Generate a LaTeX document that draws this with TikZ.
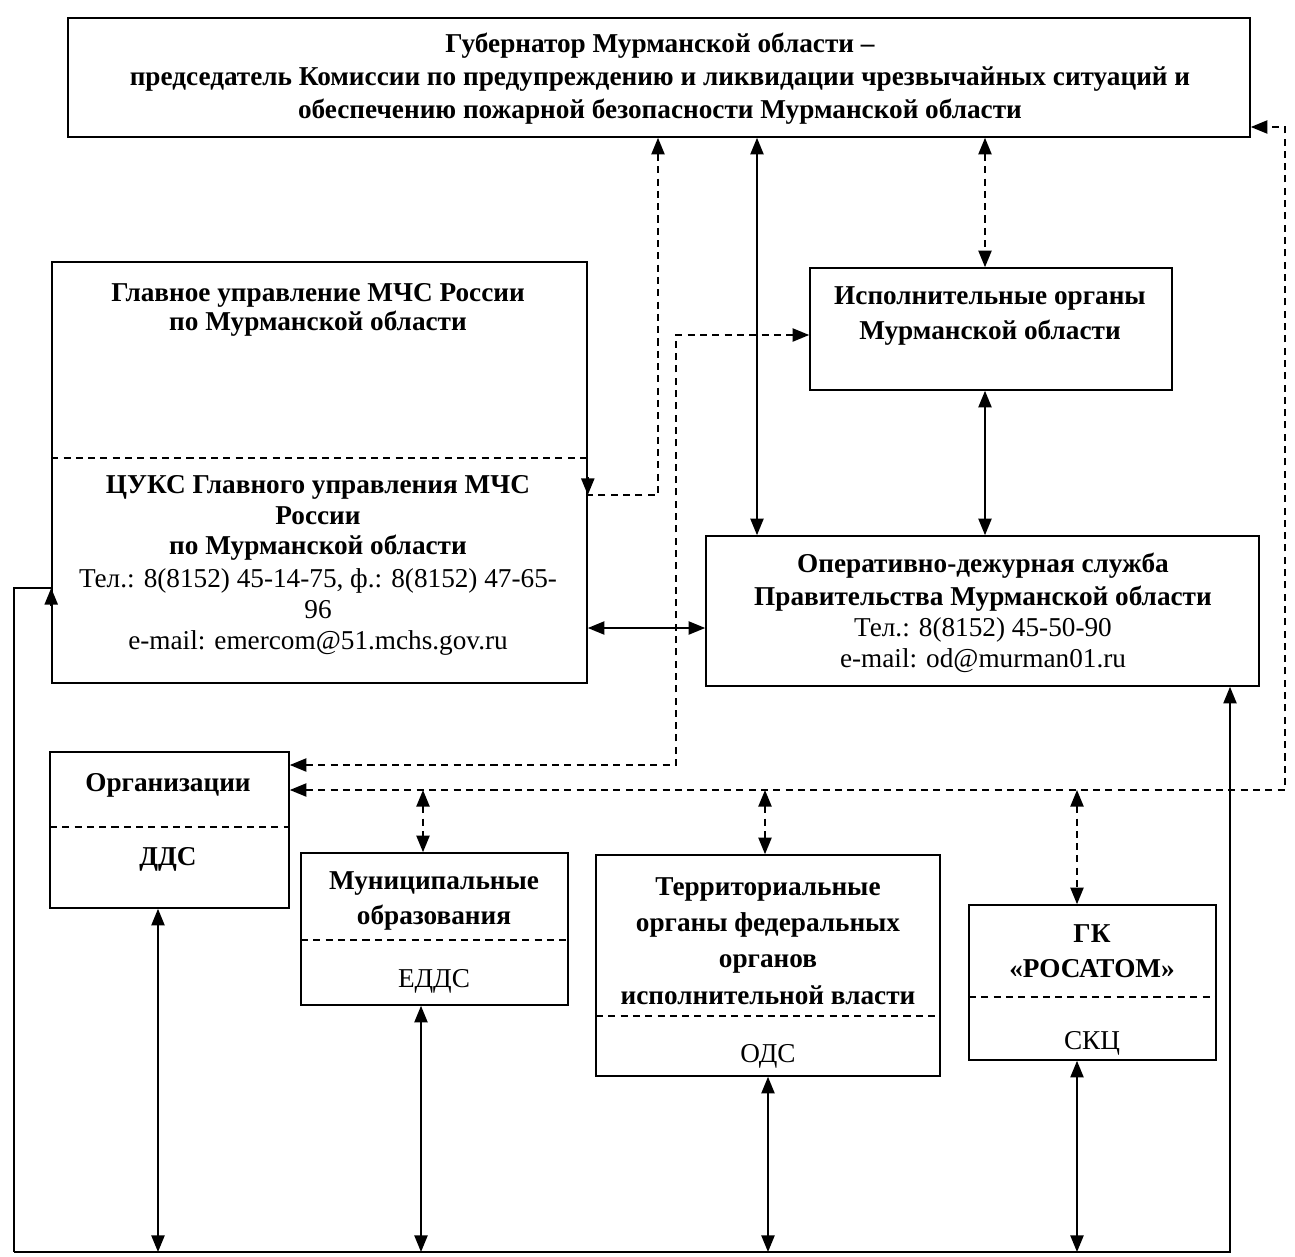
\documentclass[tikz,border=0pt]{standalone}
\usepackage{fontspec}
\setmainfont{Liberation Serif}
\usetikzlibrary{arrows.meta,fit,calc}
\begin{document}
\begin{tikzpicture}[x=0.02cm,y=-0.02cm,
  box/.style={draw,line width=0.9pt,inner sep=0pt},
  sep/.style={line width=0.9pt,dash pattern=on 4pt off 3pt},
  tip/.style={-{Triangle[length=9.5pt,width=7.5pt]}},
  dtip/.style={{Triangle[length=9.5pt,width=7.5pt]}-{Triangle[length=9.5pt,width=7.5pt]}},
  stip/.style={{Triangle[length=9.5pt,width=7.5pt]}-},
  conn/.style={line width=1.1pt},
  dconn/.style={line width=1.1pt,dash pattern=on 4pt off 3pt},
  bt/.style={font=\bfseries\fontsize{15.5}{#1}\selectfont,align=center,inner sep=0pt},
  bt/.default=18,
  rt/.style={font=\fontsize{15.5}{#1}\selectfont,align=center,inner sep=0pt},
  rt/.default=18]
\useasboundingbox (0,0) rectangle (1295,1257);

% helper coordinates
\foreach \n/\v in {14/14,158/158,421/421,423/423,587/587,658/658,676/676,757/757,765/765,768/768,985/985,1077/1077,1230/1230,1285/1285}
  \coordinate (x\n) at (\v,0);
\foreach \n/\v in {127/127,335/335,458/458,495/495,588/588,628/628,765/765,790/790,1252/1252}
  \coordinate (y\n) at (0,\v);

% boxes
\node[box,fit={(68,18)(1250,137)}] (top) {};
\node[box,fit={(52,262)(587,683)}] (gu) {};
\node[box,fit={(810,268)(1172,390)}] (isp) {};
\node[box,fit={(706,536)(1259,686)}] (oper) {};
\node[box,fit={(50,752)(289,908)}] (org) {};
\node[box,fit={(301,853)(568,1005)}] (mun) {};
\node[box,fit={(596,855)(940,1076)}] (terr) {};
\node[box,fit={(969,905)(1216,1060)}] (gk) {};

% dividers
\draw[sep] (gu.west |- y458) -- (gu.east |- y458);
\draw[sep] (50,827) -- (289,827);
\draw[sep] (301,940) -- (568,940);
\draw[sep] (596,1016) -- (940,1016);
\draw[sep] (969,997) -- (1216,997);

% texts
\node[bt=18.7] (toptxt) at (660,79) {Губернатор Мурманской области –\\председатель Комиссии по предупреждению и ликвидации чрезвычайных ситуаций и\\обеспечению пожарной безопасности Мурманской области};
\node[bt=16.5] (gutxt) at (318,310) {Главное управление МЧС России\\по Мурманской области};
\node[bt=17.3] (cuks) at (318,518) {ЦУКС Главного управления МЧС\\России\\по Мурманской области};
\node[rt=17.8] (cukstel) at (318,612) {Тел.: 8(8152) 45-14-75, ф.: 8(8152) 47-65-\\96\\e-mail: emercom@51.mchs.gov.ru};
\node[bt=20.4] (isptxt) at (990,316) {Исполнительные органы\\Мурманской области};
\node[bt=18.7] (opertxt) at (983,582) {Оперативно-дежурная служба\\Правительства Мурманской области};
\node[rt=18] (opertel) at (983,645) {Тел.: 8(8152) 45-50-90\\e-mail: od@murman01.ru};
\node[bt] (orgtxt) at (168,785) {Организации};
\node[bt] (dds) at (168,859) {ДДС};
\node[bt=19.8] (muntxt) at (434,901) {Муниципальные\\образования};
\node[rt] (edds) at (434,981) {ЕДДС};
\node[bt=20.6] (terrtxt) at (768,941) {Территориальные\\органы федеральных\\органов\\исполнительной власти};
\node[rt] (ods) at (768,1056) {ОДС};
\node[bt=19.8] (gktxt) at (1092,951) {ГК\\«РОСАТОМ»};
\node[rt] (skc) at (1092,1043) {СКЦ};

% connectors at top
\draw[dconn,stip] (top.south -| x658) -- (x658 |- y495) -- (gu.east |- y495);
\draw[conn,tip] ($(gu.east |- y495)+(0,-18)$) -- (gu.east |- y495);
\draw[conn,dtip] (top.south -| x757) -- (oper.north -| x757);
\draw[dconn,dtip] (top.south -| x985) -- (isp.north -| x985);
\draw[conn,dtip] (isp.south -| x985) -- (oper.north -| x985);
\draw[conn,dtip] (gu.east |- y628) -- (oper.west |- y628);
\draw[dconn,dtip] (org.east |- y765) -- (x676 |- y765) -- (x676 |- y335) -- (isp.west |- y335);
\draw[dconn,dtip] (org.east |- y790) -- (x1285 |- y790) -- (x1285 |- y127) -- (top.east |- y127);
\draw[dconn,dtip] (x423 |- y790) -- (mun.north -| x423);
\draw[dconn,dtip] (x765 |- y790) -- (terr.north -| x765);
\draw[dconn,dtip] (x1077 |- y790) -- (gk.north -| x1077);

% bottom bus
\draw[conn,tip] (x14 |- y1252) -- (x1230 |- y1252) -- (oper.south -| x1230);
\draw[conn] (x14 |- y1252) -- (x14 |- y588) -- (gu.west |- y588);
\draw[conn,tip] ($(gu.west |- y588)+(0,18)$) -- (gu.west |- y588);
\draw[conn,dtip] (org.south -| x158) -- (x158 |- y1252);
\draw[conn,dtip] (mun.south -| x421) -- (x421 |- y1252);
\draw[conn,dtip] (terr.south -| x768) -- (x768 |- y1252);
\draw[conn,dtip] (gk.south -| x1077) -- (x1077 |- y1252);
\end{tikzpicture}
\end{document}
